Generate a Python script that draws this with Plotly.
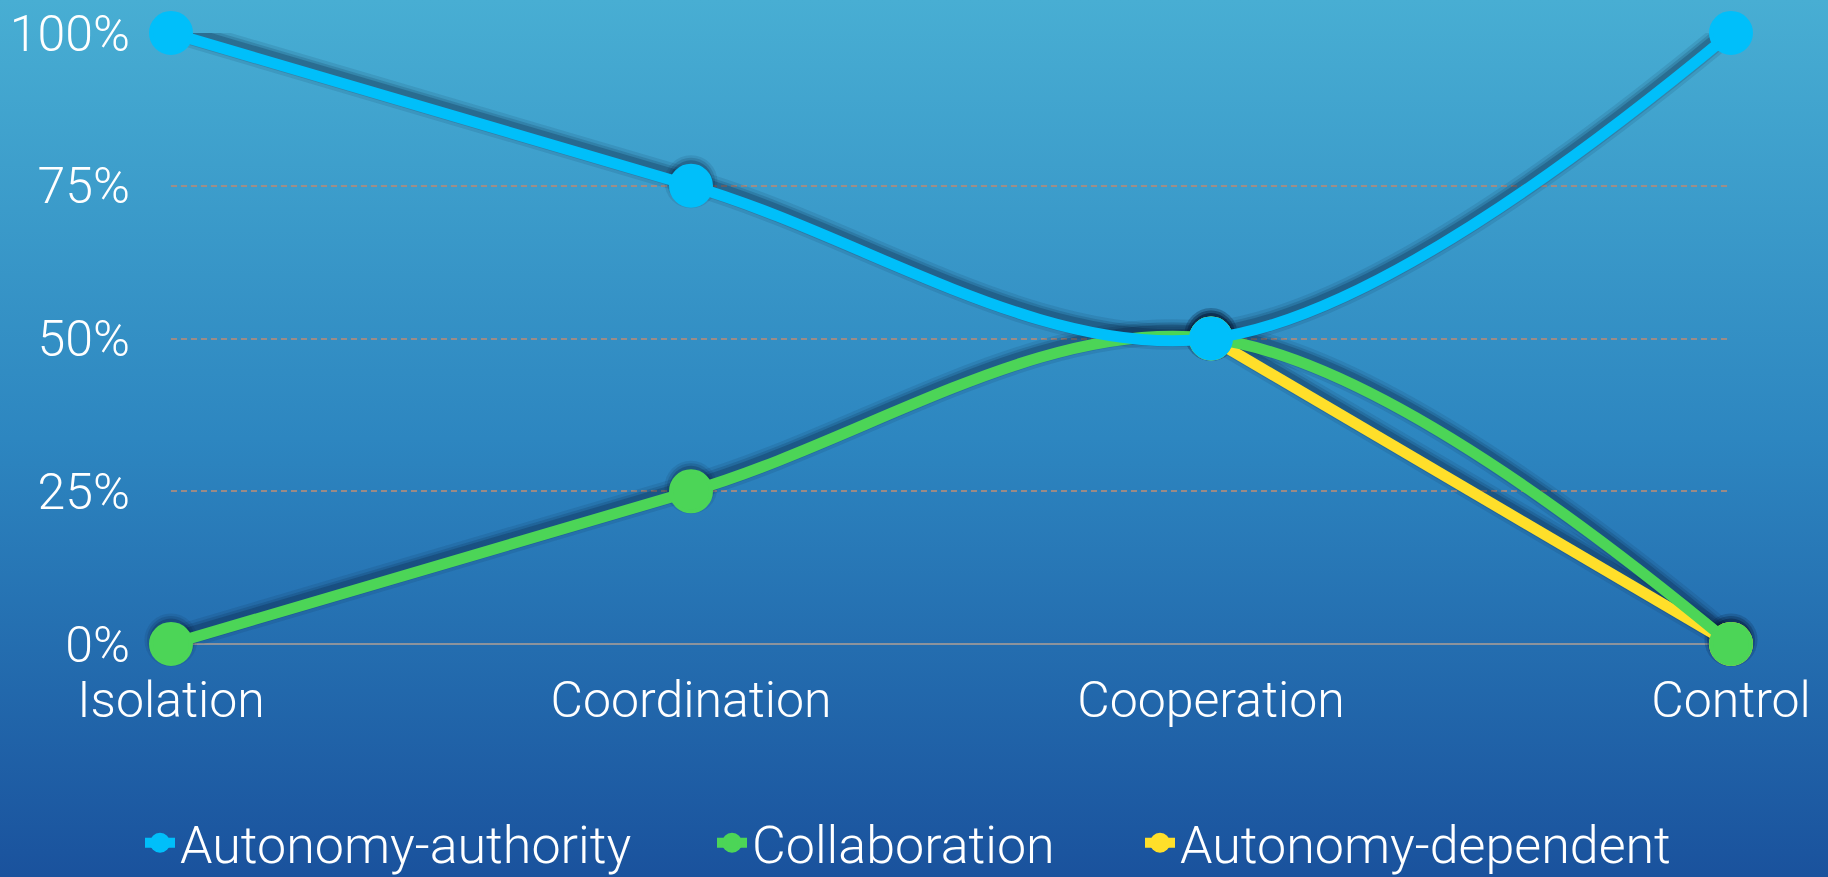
import base64
import plotly.graph_objects as go

# ---------------- data ----------------
categories = ["Isolation", "Coordination", "Cooperation", "Control"]
autonomy_authority = [100, 75, 50, 100]
collaboration = [0, 25, 50, 0]
autonomy_dependent = [None, None, 50, 0]
y_tick_values = [0, 25, 50, 75, 100]
y_tick_labels = ["0%", "25%", "50%", "75%", "100%"]

# ---------------- styles ----------------
W, H = 1828, 877
ML, MR, MT, MB = 171, 97, 33, 233
PW, PH = W - ML - MR, H - MT - MB
BLUE, GREEN, YELLOW = "#00BFFA", "#4CD557", "#FFDF2A"
FONT = "Roboto, 'Helvetica Neue', Arial, sans-serif"
SHADOW_UP_PX = 4
shadow_shift = SHADOW_UP_PX * 100 / PH

svg = (
    f'<svg xmlns="http://www.w3.org/2000/svg" width="{W}" height="{H}" preserveAspectRatio="none">'
    '<defs><linearGradient id="g" x1="0" y1="0" x2="0" y2="1">'
    '<stop offset="0" stop-color="#48AED3"/>'
    '<stop offset="0.5" stop-color="#2D86C0"/>'
    '<stop offset="1" stop-color="#1A529D"/>'
    '</linearGradient></defs>'
    f'<rect x="0" y="0" width="{W}" height="{H}" fill="url(#g)"/></svg>'
)
bg_src = "data:image/svg+xml;base64," + base64.b64encode(svg.encode()).decode()

# (name, values, colour, line shape, legend id)
series = [
    ("Autonomy-dependent", autonomy_dependent, YELLOW, "linear", "legend3"),
    ("Collaboration", collaboration, GREEN, "spline", "legend2"),
    ("Autonomy-authority", autonomy_authority, BLUE, "spline", "legend"),
]

fig = go.Figure()

# soft shadows underneath all lines (base axis "y", slightly shifted range)
for name, vals, color, shape, lg in series:
    for lw, ms, a in [(26, 53, 0.10), (20, 48, 0.15), (15, 43, 0.22)]:
        fig.add_trace(go.Scatter(
            x=categories, y=vals, mode="lines+markers", yaxis="y",
            line=dict(color=f"rgba(5,25,55,{a})", width=lw, shape=shape, smoothing=1),
            marker=dict(size=ms, color=f"rgba(5,25,55,{a})"),
            showlegend=False, hoverinfo="skip", cliponaxis=False,
        ))

# main series (overlay axis "y2" carries ticks and grid)
for name, vals, color, shape, lg in series:
    fig.add_trace(go.Scatter(
        x=categories, y=vals, name=name, mode="lines+markers", yaxis="y2",
        line=dict(color=color, width=11, shape=shape, smoothing=1),
        marker=dict(size=40, color=color, line=dict(color=color, width=4)),
        cliponaxis=False, hoverinfo="skip", legend=lg,
    ))

def px_x(px):
    return (px - ML) / PW

legend_common = dict(
    orientation="h", xanchor="left", yanchor="middle",
    y=(644 - 843) / PH, font=dict(size=52, color="white", family=FONT, weight=300),
    bgcolor="rgba(0,0,0,0)", itemclick=False, itemdoubleclick=False,
    borderwidth=0,
)

fig.update_layout(
    width=W, height=H,
    margin=dict(l=ML, r=MR, t=MT, b=MB, autoexpand=False),
    paper_bgcolor="#2D86C0",
    plot_bgcolor="rgba(0,0,0,0)",
    font=dict(family=FONT, color="white", size=50, weight=300),
    images=[dict(
        source=bg_src, xref="paper", yref="paper",
        x=-ML / PW, y=1 + MT / PH, sizex=W / PW, sizey=H / PH,
        xanchor="left", yanchor="top", sizing="stretch", layer="below",
    )],
    xaxis=dict(
        type="category", categoryorder="array", categoryarray=categories,
        range=[0, 3], showgrid=False, zeroline=False, showline=False,
        ticks="", ticklabelstandoff=22, tickfont=dict(size=50),
    ),
    yaxis=dict(
        range=[-shadow_shift, 100 - shadow_shift], visible=False,
        showgrid=False, zeroline=False,
    ),
    yaxis2=dict(
        overlaying="y", side="left",
        range=[0, 100], tickvals=y_tick_values, ticktext=y_tick_labels,
        showgrid=True, gridcolor="rgba(175,140,125,0.85)", gridwidth=1.5,
        griddash="6px,4px", zeroline=True, zerolinecolor="#8C939C",
        zerolinewidth=2, showline=False, ticks="", ticklabelstandoff=40,
        tickfont=dict(size=50),
    ),
    legend=dict(x=px_x(140), **legend_common),
    legend2=dict(x=px_x(712), **legend_common),
    legend3=dict(x=px_x(1140), **legend_common),
    showlegend=True,
    hovermode=False,
)

fig.write_html(
    "out.html",
    config={"displayModeBar": False},
    post_script="document.body.style.margin='0';document.body.style.overflow='hidden';",
)
